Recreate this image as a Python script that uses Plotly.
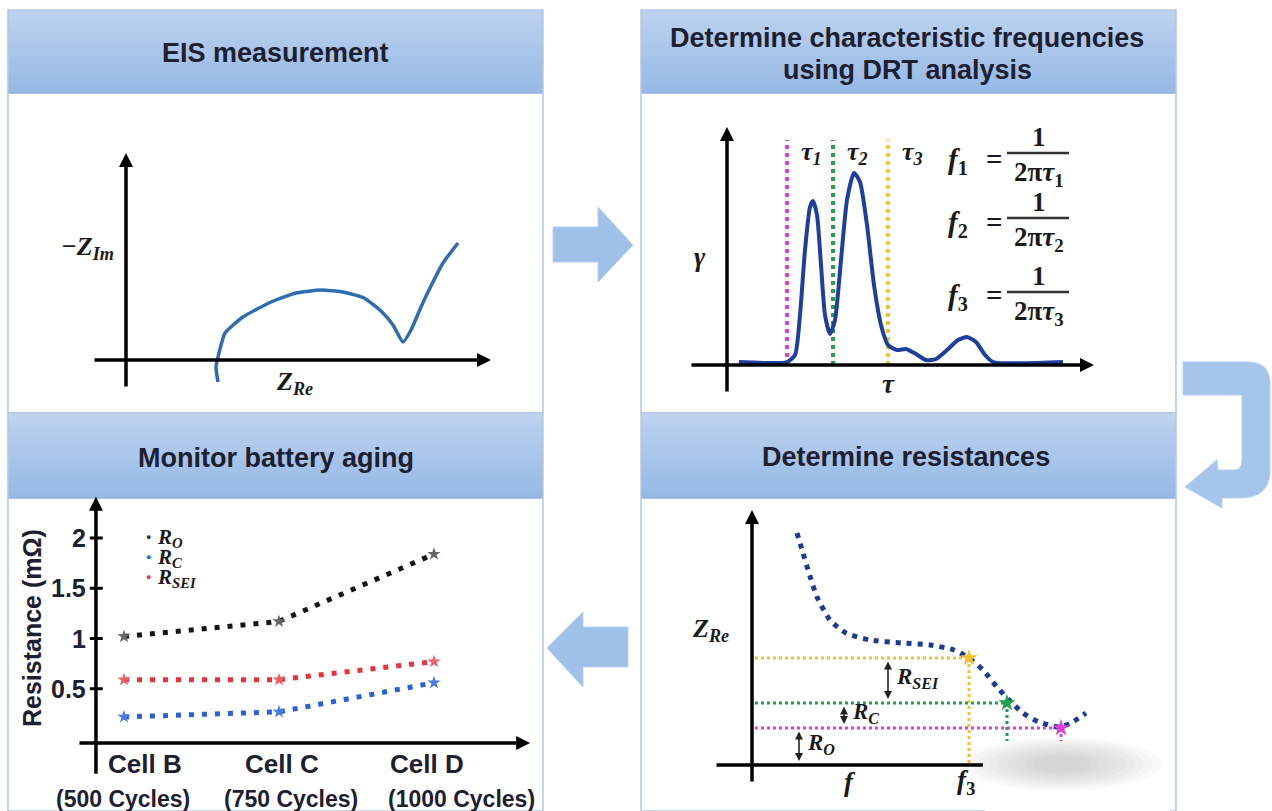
import plotly.graph_objects as go

W, H = 1272, 811

# ---------------- data ----------------
# Panel 1 : Nyquist plot (arbitrary units)
nyq_re = [9.2, 9.0, 9.3, 9.9, 11.7, 14.5, 17.0, 19.5, 21.7, 23.8, 25.6, 26.7, 27.7,
          28.5, 29.5, 30.3, 31.7, 33.2]
nyq_im = [-2.2, -0.7, 0.7, 2.7, 4.3, 5.8, 6.7, 7.0, 6.8, 6.2, 4.8, 3.5, 1.8,
          3.0, 5.3, 7.0, 9.7, 11.7]

# Panel 2 : DRT spectrum (arbitrary units)
drt_tau = [1.2, 6.0, 6.8, 7.3, 7.8, 8.3, 8.6, 9.0, 9.4, 9.8, 10.3, 10.8, 11.4, 12.0,
           12.7, 13.3, 14.0, 14.7, 15.4, 16.1, 17.0, 17.9, 18.9, 19.9, 20.9, 22.0,
           23.1, 24.0, 24.9, 25.8, 26.6, 33.6]
drt_gamma = [0.3, 0.3, 1.0, 5.0, 11.5, 15.8, 16.4, 15.0, 10.0, 5.0, 3.1, 4.5, 10.5, 16.5,
             19.2, 18.3, 14.0, 8.0, 4.0, 2.0, 1.5, 1.6, 1.1, 0.5, 0.6, 1.5,
             2.5, 2.8, 2.3, 1.0, 0.3, 0.3]
tau_marks = [6.0, 10.6, 16.1]
tau_names = ["τ<sub>1</sub>", "τ<sub>2</sub>", "τ<sub>3</sub>"]
tau_colors = ["#e040d8", "#22a04a", "#f2c12e"]

# Panel 3 : battery aging
cells = ["Cell B", "Cell C", "Cell D"]
cycles = ["(500 Cycles)", "(750 Cycles)", "(1000 Cycles)"]
R_O = [1.02, 1.17, 1.84]
R_C = [0.22, 0.27, 0.56]
R_SEI = [0.59, 0.59, 0.77]
y_ticks = [0.5, 1, 1.5, 2]
y_tick_text = ["0.5", "1", "1.5", "2"]

# Panel 4 : Z_Re vs frequency (arbitrary units)
zre_f = [4.5, 5.1, 5.7, 6.5, 7.8, 9.4, 11.8, 15.0, 17.8, 20.2, 21.7, 23.1, 24.5, 25.7,
         27.1, 28.7, 30.7, 31.9, 33.4]
zre_v = [23.2, 21.2, 19.2, 16.8, 14.5, 13.2, 12.5, 12.2, 12.0, 11.5, 10.7, 9.5, 7.8, 6.5,
         5.2, 4.3, 3.8, 4.2, 5.2]
char_f = [21.7, 25.5, 30.9]        # f3, f2, f1
char_level = [10.7, 6.2, 3.7]      # Z_Re at f3, f2, f1
char_colors = ["#f2c12e", "#22a04a", "#e040d8"]

# ---------------- styling ----------------
SANS = "Liberation Sans, Arial, sans-serif"
SERIF = "Liberation Serif, Times New Roman, serif"
INK = "#1d2030"
MATH = "#1a1a1a"

def X(px):
    return px / W

def Y(py):
    return 1 - py / H

fig = go.Figure()
shapes = []
ann = []

def text(x, y, t, size, family=SERIF, xanchor="center", yanchor="middle",
         angle=0, color=MATH, xref="paper", yref="paper"):
    if xref == "paper":
        x = X(x)
    if yref == "paper":
        y = Y(y)
    ann.append(dict(x=x, y=y, xref=xref, yref=yref, text=t, showarrow=False,
                    font=dict(family=family, size=size, color=color),
                    xanchor=xanchor, yanchor=yanchor, textangle=angle))

def arrow(ax_id, x0, y0, x1, y1, width=3.5, head=2, size=0.8, color="black", both=False):
    xr, yr = "x" + ax_id, "y" + ax_id
    d = dict(x=x1, y=y1, ax=x0, ay=y0, xref=xr, yref=yr, axref=xr, ayref=yr,
             showarrow=True, text="", arrowhead=head, arrowsize=size,
             arrowwidth=width, arrowcolor=color, standoff=0, startstandoff=0)
    if both:
        d.update(arrowside="end+start", startarrowhead=head, startarrowsize=size)
    ann.append(d)

def path(cmds):
    out = []
    for c in cmds:
        op = c[0]
        nums = c[1:]
        pts = []
        for i in range(0, len(nums), 2):
            pts.append("%.5f,%.5f" % (X(nums[i]), Y(nums[i + 1])))
        out.append(op + " ".join(pts))
    return " ".join(out)

# ---------------- panels ----------------
panels = [  # left, top, right, bottom, header bottom
    (8, 10, 543, 413, 93),
    (641, 10, 1176, 413, 93),
    (8, 413, 543, 811, 498),
    (641, 413, 1176, 811, 498),
]
c_top = (188, 210, 239)
c_bot = (150, 185, 229)
NS = 16
for (l, t, r, b, hb) in panels:
    shapes.append(dict(type="rect", xref="paper", yref="paper", x0=X(l), x1=X(r),
                       y0=Y(b), y1=Y(t), fillcolor="white", line=dict(width=0), layer="below"))
    for k in range(NS):
        f = k / (NS - 1)
        col = "rgb(%d,%d,%d)" % tuple(round(c_top[j] + (c_bot[j] - c_top[j]) * f) for j in range(3))
        ya = t + (hb - t) * k / NS
        yb = min(hb, t + (hb - t) * (k + 1) / NS + 2)
        shapes.append(dict(type="rect", xref="paper", yref="paper", x0=X(l), x1=X(r),
                           y0=Y(yb), y1=Y(ya), fillcolor=col, line=dict(width=0), layer="below"))
    shapes.append(dict(type="line", xref="paper", yref="paper", x0=X(l), x1=X(r),
                       y0=Y(hb), y1=Y(hb), line=dict(color="#8fb1dd", width=1.5), layer="below"))
    shapes.append(dict(type="rect", xref="paper", yref="paper", x0=X(l), x1=X(r),
                       y0=Y(b), y1=Y(t), line=dict(color="#b3c9e4", width=1.5), layer="below"))

# flow arrows
ARROW_FILL = "#9fc0e8"
ARROW_LINE = "#b8d0ef"
shapes.append(dict(type="path", xref="paper", yref="paper", layer="below",
                   path=path([("M", 553, 227), ("L", 598, 227), ("L", 598, 207), ("L", 633, 245),
                              ("L", 598, 282), ("L", 598, 262), ("L", 553, 262), ("Z",)]),
                   fillcolor=ARROW_FILL, line=dict(color=ARROW_LINE, width=1)))
shapes.append(dict(type="path", xref="paper", yref="paper", layer="below",
                   path=path([("M", 547, 648), ("L", 583, 612), ("L", 583, 627), ("L", 628, 627),
                              ("L", 628, 667), ("L", 583, 667), ("L", 583, 687), ("Z",)]),
                   fillcolor=ARROW_FILL, line=dict(color=ARROW_LINE, width=1)))
shapes.append(dict(type="path", xref="paper", yref="paper", layer="below",
                   path=path([("M", 1183, 362), ("L", 1248, 362), ("Q", 1270, 362, 1270, 384),
                              ("L", 1270, 474), ("Q", 1268, 497, 1242, 498), ("L", 1222, 498),
                              ("L", 1222, 508), ("L", 1185, 487), ("L", 1217, 460), ("L", 1218, 470),
                              ("L", 1234, 470), ("Q", 1242, 470, 1242, 460), ("L", 1242, 395),
                              ("L", 1183, 395), ("Z",)]),
                   fillcolor="#a6c5ea", line=dict(color=ARROW_LINE, width=1)))

# ---------------- axes (one per panel, spanning the panel) ----------------
# (left, top, right, bottom, origin_x_px, origin_y_px, px per unit x, px per unit y)
frames = [
    (8, 10, 543, 413, 126, 360, 10, 10),
    (641, 10, 1176, 413, 727, 365, 10, 10),
    (8, 413, 543, 811, 124, 739, 155, 100.5),
    (641, 413, 1176, 811, 752, 765, 10, 10),
]
layout_axes = {}
for i, (l, t, r, b, ox, oy, sx, sy) in enumerate(frames, start=1):
    sfx = "" if i == 1 else str(i)
    layout_axes["xaxis" + sfx] = dict(domain=[X(l), X(r)], range=[(l - ox) / sx, (r - ox) / sx],
                                      visible=False, fixedrange=True, anchor="y" + sfx)
    layout_axes["yaxis" + sfx] = dict(domain=[Y(b), Y(t)], range=[(oy - b) / sy, (oy - t) / sy],
                                      visible=False, fixedrange=True, anchor="x" + sfx)

# ---------------- Panel 1 : EIS ----------------
fig.add_trace(go.Scatter(x=nyq_re, y=nyq_im, mode="lines", xaxis="x", yaxis="y",
                         line=dict(color="#2f6cb0", width=3.5, shape="spline", smoothing=0.5),
                         showlegend=False, hoverinfo="skip"))
arrow("", 0, -2.8, 0, 20.7)
arrow("", -3.3, 0, 36.5, 0)
text(87, 248, "<b><i>−Z</i></b><sub><b><i>Im</i></b></sub>", 26)
text(294, 383, "<b><i>Z</i></b><sub><b><i>Re</i></b></sub>", 26)
text(275, 53, "<b>EIS measurement</b>", 27, family=SANS, color=INK)

# ---------------- Panel 2 : DRT ----------------
for tm, col in zip(tau_marks, tau_colors):
    fig.add_trace(go.Scatter(x=[tm, tm], y=[0, 22.5], mode="lines", xaxis="x2", yaxis="y2",
                             line=dict(color=col, width=4, dash="4px,4px"),
                             showlegend=False, hoverinfo="skip"))
fig.add_trace(go.Scatter(x=drt_tau, y=drt_gamma, mode="lines", xaxis="x2", yaxis="y2",
                         line=dict(color="#1f3f9e", width=4, shape="spline", smoothing=0.6),
                         showlegend=False, hoverinfo="skip"))
arrow("2", 0, -2.8, 0, 23.8)
arrow("2", -3.7, 0, 36.7, 0)
for tm, nm in zip(tau_marks, tau_names):
    text(tm + 2.4, 21.2, "<b><i>" + nm + "</i></b>", 26, xref="x2", yref="y2")
text(700, 257, "<b><i>γ</i></b>", 27)
text(888, 384, "<b><i>τ</i></b>", 27)
for k, (yf, bar) in enumerate([(161, 153), (224, 218), (297, 292)], start=1):
    text(958, yf, "<b><i>f</i></b><sub><b>%d</b></sub>" % k, 29)
    text(994, yf - 2, "<b>=</b>", 29)
    text(1039, bar - 16, "<b>1</b>", 27)
    text(1039, bar + 21, "<b>2π<i>τ</i></b><sub><b>%d</b></sub>" % k, 27)
    shapes.append(dict(type="line", xref="paper", yref="paper", x0=X(1007), x1=X(1069),
                       y0=Y(bar), y1=Y(bar), line=dict(color="#333333", width=2.5)))
text(907, 38, "<b>Determine characteristic frequencies</b>", 27, family=SANS, color=INK)
text(907, 70, "<b>using DRT analysis</b>", 27, family=SANS, color=INK)

# ---------------- Panel 3 : aging ----------------
idx = list(range(len(cells)))
for vals, col, mcol in [(R_O, "#151515", "#666666"), (R_SEI, "#e8323c", "#ec6068"),
                        (R_C, "#2a5fe0", "#4a7ae8")]:
    fig.add_trace(go.Scatter(x=idx, y=vals, mode="lines+markers", xaxis="x3", yaxis="y3",
                             line=dict(color=col, width=5, dash="5px,8px"),
                             marker=dict(symbol="star", size=10, color=mcol),
                             showlegend=False, hoverinfo="skip"))
arrow("3", -0.181, -0.36, -0.181, 2.41)
arrow("3", -0.297, -0.04, 2.62, -0.04)
for v, lab in zip(y_ticks, y_tick_text):
    shapes.append(dict(type="line", xref="x3", yref="y3", x0=-0.22, x1=-0.137, y0=v, y1=v,
                       line=dict(color="black", width=3)))
    text(88, 739 - v * 100.5, "<b>" + lab + "</b>", 25, family=SANS, xanchor="right", color=INK)
cell_px = [145, 282, 427]
cyc_px = [123, 291, 461]
for c, cy, xc, xy in zip(cells, cycles, cell_px, cyc_px):
    text(xc, 764, "<b>" + c + "</b>", 26, family=SANS, color=INK)
    text(xy, 799, "<b>" + cy + "</b>", 23, family=SANS, color=INK)
text(32, 628, "<b>Resistance (mΩ)</b>", 25, family=SANS, angle=-90, color=INK)
for yy, col, lab in [(537, "#333333", "O"), (557, "#2a5fe0", "C"), (577, "#e8323c", "SEI")]:
    text(148, yy, "●", 9, family=SANS, color=col)
    text(155, yy + 1, "<b><i>R</i></b><sub><b><i>%s</i></b></sub>" % lab, 21, xanchor="left")
text(276, 458, "<b>Monitor battery aging</b>", 27, family=SANS, color=INK)

# ---------------- Panel 4 : resistances ----------------
for fx, lv, col in zip(char_f, char_level, char_colors):
    fig.add_trace(go.Scatter(x=[0.3, fx], y=[lv, lv], mode="lines", xaxis="x4", yaxis="y4",
                             line=dict(color=col, width=3, dash="3px,3px"),
                             showlegend=False, hoverinfo="skip"))
    fig.add_trace(go.Scatter(x=[fx, fx], y=[lv, 0], mode="lines", xaxis="x4", yaxis="y4",
                             line=dict(color=col, width=3, dash="3px,3px"),
                             showlegend=False, hoverinfo="skip"))
fig.add_trace(go.Scatter(x=zre_f, y=zre_v, mode="lines", xaxis="x4", yaxis="y4",
                         line=dict(color="#1f3a93", width=5, dash="5px,6px", shape="spline",
                                   smoothing=0.6),
                         showlegend=False, hoverinfo="skip"))
fig.add_trace(go.Scatter(x=char_f, y=char_level, mode="markers", xaxis="x4", yaxis="y4",
                         marker=dict(symbol="star", size=13, color=char_colors),
                         showlegend=False, hoverinfo="skip"))
arrow("4", 0, -1.8, 0, 25.5)
arrow("4", -3.7, 0, 23.1, 0, head=0)
# resistance brackets between successive levels
brk_x = [13.6, 9.2, 4.7]
brk_lab = ["SEI", "C", "O"]
lv_pairs = [(char_level[0], char_level[1]), (char_level[1], char_level[2]), (char_level[2], 0)]
for bx, (hi, lo), lab in zip(brk_x, lv_pairs, brk_lab):
    arrow("4", bx, lo + 0.25, bx, hi - 0.35, width=1.6, head=2, size=1.0, color="#222222", both=True)
    text(bx + 0.6, (hi + lo) / 2 + 0.3, "<b><i>R</i></b><sub><b><i>%s</i></b></sub>" % lab, 23,
         xanchor="left", xref="x4", yref="y4")
text(710, 630, "<b><i>Z</i></b><sub><b><i>Re</i></b></sub>", 26)
text(850, 782, "<b><i>f</i></b>", 27)
text(966, 782, "<b><i>f</i></b><sub><b>3</b></sub>", 27)
text(906, 457, "<b>Determine resistances</b>", 27, family=SANS, color=INK)

# watermark-like blur patch at the lower right
shapes.append(dict(type="rect", xref="paper", yref="paper", x0=X(985), x1=X(1170),
                   y0=Y(811), y1=Y(741), fillcolor="white", line=dict(width=0), layer="above"))
for k in range(9):
    rx = 100 - k * 9
    ry = 27 - k * 2.3
    cx, cy = 1062, 764
    shapes.append(dict(type="circle", xref="paper", yref="paper", x0=X(cx - rx), x1=X(cx + rx),
                       y0=Y(cy + ry), y1=Y(cy - ry), fillcolor="rgba(140,140,140,0.045)",
                       line=dict(width=0), layer="above"))

fig.update_layout(width=W, height=H, margin=dict(l=0, r=0, t=0, b=0),
                  paper_bgcolor="white", plot_bgcolor="rgba(0,0,0,0)",
                  shapes=shapes, annotations=ann, showlegend=False, **layout_axes)
fig.write_html("out.html")
